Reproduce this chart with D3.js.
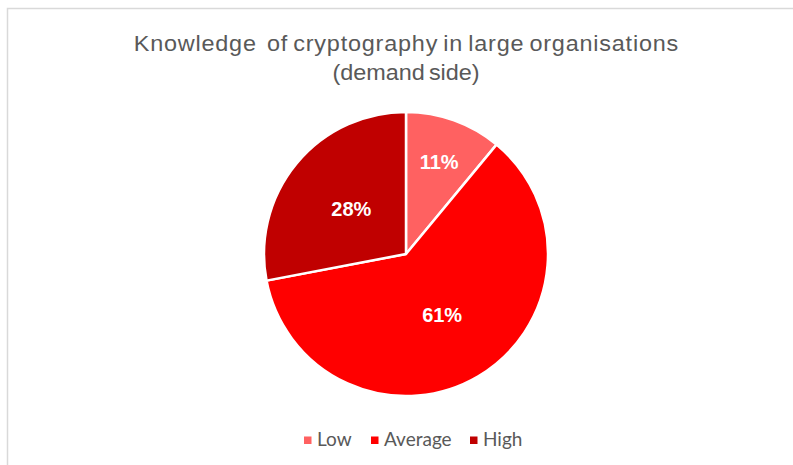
<!DOCTYPE html>
<html>
<head>
<meta charset="utf-8">
<script src="https://cdn.jsdelivr.net/npm/d3@7"></script>
<style>
  html, body { margin: 0; padding: 0; background: #fff; }
  svg { display: block; }
  .title { white-space: pre; }
</style>
</head>
<body>
<svg id="chart" width="793" height="465"></svg>
<script>
// Knowledge levels and their shares (percent)
const categories = ["Low", "Average", "High"];
const shares = [11, 61, 28];
const colors = ["#ff6161", "#ff0000", "#c00000"];
const titleLines = ["Knowledge  of cryptography in large organisations", "(demand side)"];

const svg = d3.select("#chart");
const W = 793, H = 465;

// Chart frame
svg.append("rect")
  .attr("x", 7.5).attr("y", 8.5)
  .attr("width", W).attr("height", H)
  .attr("fill", "#fff")
  .attr("stroke", "#d9d9d9")
  .attr("stroke-width", 1.5);

// Title: two centred lines, glyphs slightly widened, fitted to the title width
const titleWidths = [545, 147];
const stretch = 1.09;
titleLines.forEach((t, i) => {
  const el = svg.append("text")
    .attr("class", "title")
    .attr("x", 0).attr("y", 0)
    .attr("text-anchor", "middle")
    .attr("font-family", "'Liberation Sans', Arial, sans-serif")
    .attr("font-size", 21.5)
    .attr("word-spacing", -2)
    .attr("fill", "#595959")
    .text(t);
  const natural = el.node().getComputedTextLength();
  const ls = (titleWidths[i] / stretch - natural) / (t.length - 1);
  el.attr("letter-spacing", ls)
    .attr("x", ls / 2)
    .attr("transform", `translate(406,${51 + i * 28.5}) scale(${stretch},1)`);
});

// Pie
const cx = 406, cy = 254, r = 142;
const labelRadius = [0.69, 0.50, 0.50];
const data = categories.map((c, i) => ({ cat: c, value: shares[i], color: colors[i], lr: labelRadius[i] }));
const pie = d3.pie().sort(null).value(d => d.value);
const arc = d3.arc().innerRadius(0).outerRadius(r);

const g = svg.append("g").attr("transform", `translate(${cx},${cy})`);
const arcs = pie(data);

g.selectAll("path.slice")
  .data(arcs)
  .join("path")
  .attr("class", "slice")
  .attr("d", arc)
  .attr("fill", d => d.data.color)
  .attr("stroke", "#fff")
  .attr("stroke-width", 2.5)
  .attr("stroke-linejoin", "round");

g.selectAll("text.pct")
  .data(arcs)
  .join("text")
  .attr("class", "pct")
  .attr("transform", d => {
    const a = (d.startAngle + d.endAngle) / 2;
    const rr = r * d.data.lr;
    return `translate(${rr * Math.sin(a)},${-rr * Math.cos(a)})`;
  })
  .attr("text-anchor", "middle")
  .attr("dy", "0.35em")
  .attr("font-family", "'Liberation Sans', Arial, sans-serif")
  .attr("font-weight", "bold")
  .attr("font-size", 20)
  .attr("fill", "#fff")
  .text(d => d.data.value + "%");

// Legend
const legendX = [304, 371, 470];
const legend = svg.append("g");
const items = legend.selectAll("g")
  .data(data)
  .join("g")
  .attr("transform", (d, i) => `translate(${legendX[i]},440)`);
items.append("rect")
  .attr("x", 0).attr("y", -3.5)
  .attr("width", 7.5).attr("height", 7.5)
  .attr("fill", d => d.color);
items.append("text")
  .attr("x", 13).attr("y", 6)
  .attr("font-family", "Lato, 'Open Sans', sans-serif")
  .attr("font-size", 19)
  .attr("fill", "#595959")
  .text(d => d.cat);
</script>
</body>
</html>
